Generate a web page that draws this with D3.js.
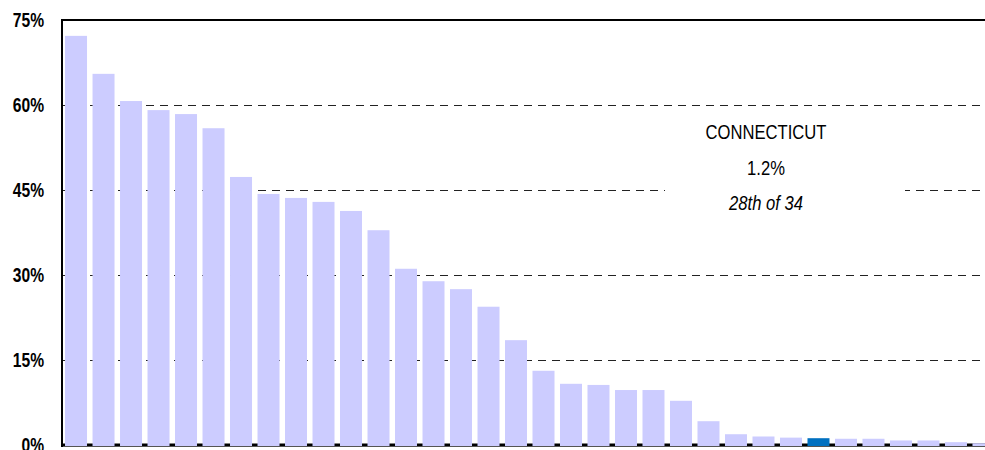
<!DOCTYPE html>
<html>
<head>
<meta charset="utf-8">
<script src="https://cdn.jsdelivr.net/npm/d3@7"></script>
<style>
  body { margin: 0; background: #fff; }
  svg { display: block; font-family: 'Liberation Sans', Arial, sans-serif; }
</style>
</head>
<body>
<div id="chart"></div>
<script>
const width = 985
const height = 450

// ranked states, values in percent
const ranks = d3.range(1, 35)
const values = [72.2, 65.5, 60.7, 59.1, 58.4, 55.9, 47.3, 44.3, 43.6, 42.9,
  41.3, 37.9, 31.1, 28.9, 27.5, 24.4, 18.5, 13.1, 10.8, 10.6,
  9.7, 9.7, 7.8, 4.2, 1.9, 1.5, 1.3, 1.2, 1.1, 1.1,
  0.8, 0.8, 0.5, 0.3]
const highlightRank = 28
const yTicks = [0, 15, 30, 45, 60, 75]
const labelLines = ['CONNECTICUT', '1.2%', '28th of 34']

const data = ranks.map((r, i) => ({ rank: r, value: values[i] }))

const svg = d3.select('#chart')
  .append('svg')
  .attr('width', width)
  .attr('height', height)

const x = d3.scaleBand()
  .domain(ranks)
  .range([62, 997.5])
  .paddingInner(0.2)
  .paddingOuter(0.11)

const y = d3.scaleLinear()
  .domain([0, 75])
  .range([445, 20])

// squeeze text horizontally, the original font is a narrow one
function narrow(sel, k) {
  sel.each(function () {
    const w = this.getComputedTextLength()
    d3.select(this)
      .attr('textLength', w * k)
      .attr('lengthAdjust', 'spacingAndGlyphs')
  })
}

// dashed gridlines
svg.append('g')
  .selectAll('line')
  .data(yTicks.filter(d => d > 0 && d < 75))
  .enter()
  .append('line')
  .attr('x1', 62)
  .attr('x2', width)
  .attr('y1', d => Math.round(y(d)) + 0.5)
  .attr('y2', d => Math.round(y(d)) + 0.5)
  .attr('stroke', '#222')
  .attr('stroke-dasharray', '8,6')

// baseline behind the bars
svg.append('line')
  .attr('x1', 62).attr('x2', width)
  .attr('y1', y(0)).attr('y2', y(0))
  .attr('stroke', '#000')
  .attr('stroke-width', 3)

svg.append('g')
  .selectAll('rect')
  .data(data)
  .enter()
  .append('rect')
  .attr('x', d => x(d.rank))
  .attr('width', x.bandwidth())
  .attr('y', d => y(d.value))
  .attr('height', d => y(0) + 1 - y(d.value))
  .attr('fill', d => d.rank === highlightRank ? '#0070c0' : '#ccccff')

svg.append('line')
  .attr('x1', 62).attr('x2', width)
  .attr('y1', 446.5).attr('y2', 446.5)
  .attr('stroke', '#555')

// frame: top and left
svg.append('line')
  .attr('x1', 61).attr('x2', width)
  .attr('y1', y(75)).attr('y2', y(75))
  .attr('stroke', '#000').attr('stroke-width', 2)
svg.append('line')
  .attr('x1', 62).attr('x2', 62)
  .attr('y1', y(75) - 1).attr('y2', 447)
  .attr('stroke', '#000').attr('stroke-width', 2)

// y axis labels
const yAxis = d3.axisLeft(y)
  .tickValues(yTicks)
  .tickSize(0)
  .tickPadding(18)
  .tickFormat(d => d + '%')

svg.append('g')
  .attr('transform', 'translate(62,0)')
  .call(yAxis)
  .call(g => g.select('.domain').remove())
  .selectAll('text')
  .attr('font-family', "'Liberation Sans', Arial, sans-serif")
  .attr('font-size', 20)
  .attr('font-weight', 'bold')
  .attr('dy', '0.34em')
  .attr('fill', '#000')
  .call(narrow, 0.78)

// annotation
const note = svg.append('g')
note.append('rect')
  .attr('x', 665).attr('y', 112)
  .attr('width', 240).attr('height', 100)
  .attr('fill', '#fff')
note.selectAll('text')
  .data(labelLines)
  .enter()
  .append('text')
  .attr('x', 766)
  .attr('y', (d, i) => 139 + i * 35.5)
  .attr('text-anchor', 'middle')
  .attr('font-size', 20)
  .attr('font-style', (d, i) => i === 2 ? 'italic' : 'normal')
  .attr('fill', '#000')
  .text(d => d)
  .call(narrow, 0.83)
</script>
</body>
</html>
